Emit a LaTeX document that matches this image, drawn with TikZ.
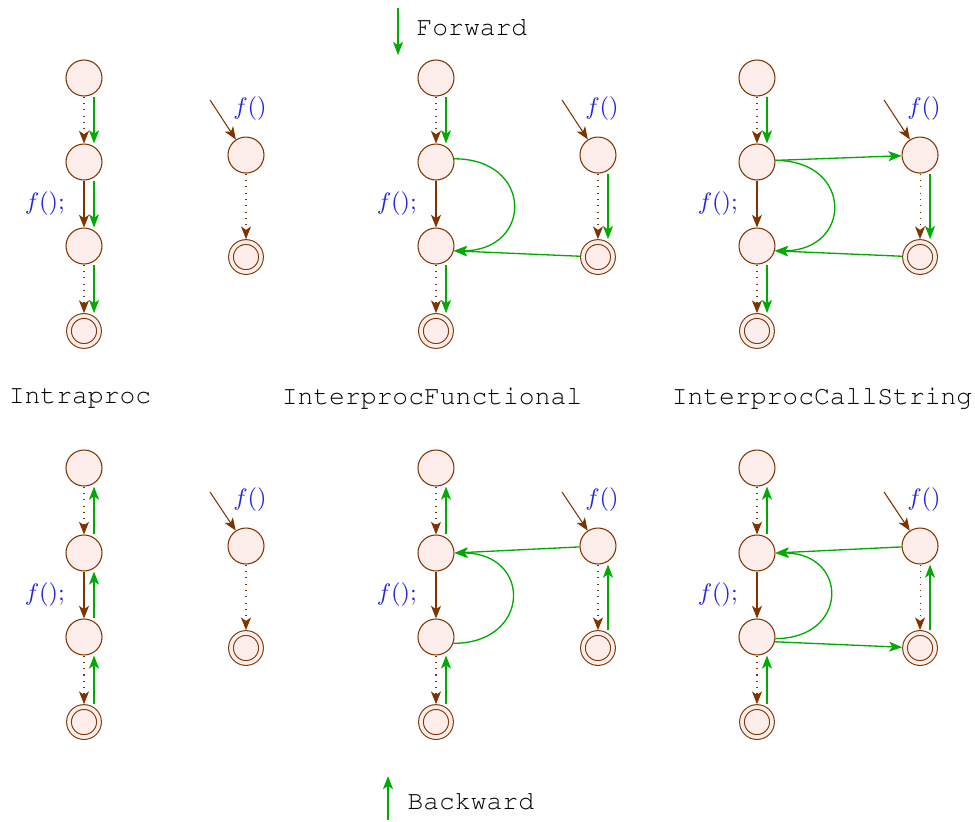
\documentclass[tikz,border=0pt]{standalone}
\usetikzlibrary{arrows.meta,positioning}
\newcommand\typefont{\fontencoding{T1}\fontfamily{pcr}\selectfont}
\definecolor{cfgbrown}{RGB}{128,51,0}
\definecolor{cfgfill}{RGB}{253,238,236}
\definecolor{flowgreen}{RGB}{0,170,0}
\definecolor{callblue}{RGB}{35,35,230}
\tikzset{
  pp/.style={circle,draw=cfgbrown,fill=cfgfill,minimum size=0.48cm,inner sep=0pt},
  ppend/.style={circle,draw=cfgbrown,fill=cfgfill,minimum size=0.4cm,inner sep=0pt,
    double=cfgfill,double distance=1.4pt,outer sep=1.1pt},
  cfg/.style={cfgbrown,-{Stealth[length=4.8pt,width=3.8pt,inset=1.3pt]}},
  nop/.style={cfg,dotted},
  flow/.style={flowgreen,line width=0.5pt,-{Stealth[length=5pt,width=3.8pt,inset=1.3pt]}},
  call/.style={callblue,font=\small},
  title/.style={font=\typefont}
}
\begin{document}
\begin{tikzpicture}
  \useasboundingbox (0,0) rectangle (13,-10.947);
  % forward
  \coordinate (fw0) at (5.307,-0.107);
  \coordinate (fw1) at (5.307,-0.733);
  \draw[flow] (fw0) -- (fw1);
  \node[title,anchor=west] (fwtext) at (5.43,-0.36) {Forward};

  \node[pp] (fi1) at (1.12,-1.04) {};
  \node[pp] (fi2) at (1.12,-2.16) {};
  \node[pp] (fi3) at (1.12,-3.28) {};
  \node[ppend] (fi4) at (1.12,-4.413) {};
  \node[pp] (fie) at (3.28,-2.067) {};
  \node[ppend] (fix) at (3.28,-3.427) {};
  \coordinate (fiin) at (2.8,-1.333);
  \node[call,above=2.4pt of fie,xshift=1.5pt] (fil) {$f()$};
  \draw[nop] (fi1) -- (fi2);
  \draw[cfg] (fi2) -- node[call,left=3.7pt] (fic) {$f();$} (fi3);
  \draw[nop] (fi3) -- (fi4);
  \draw[cfg] (fiin) -- (fie);
  \draw[nop] (fie) -- (fix);
  \draw[flow] ([xshift=3.8pt]fi1.south) -- ([xshift=3.8pt]fi2.north);
  \draw[flow] ([xshift=3.8pt]fi2.south) -- ([xshift=3.8pt]fi3.north);
  \draw[flow] ([xshift=3.8pt]fi3.south) -- ([xshift=3.8pt]fi4.north);
  \node[title] (fit) at (1.067,-5.307) {Intraproc};

  \node[pp] (ff1) at (5.813,-1.04) {};
  \node[pp] (ff2) at (5.813,-2.16) {};
  \node[pp] (ff3) at (5.813,-3.28) {};
  \node[ppend] (ff4) at (5.813,-4.413) {};
  \node[pp] (ffe) at (7.973,-2.067) {};
  \node[ppend] (ffx) at (7.973,-3.427) {};
  \coordinate (ffin) at (7.493,-1.333);
  \node[call,above=2.4pt of ffe,xshift=1.5pt] (ffl) {$f()$};
  \draw[nop] (ff1) -- (ff2);
  \draw[cfg] (ff2) -- node[call,left=3.7pt] (ffc) {$f();$} (ff3);
  \draw[nop] (ff3) -- (ff4);
  \draw[cfg] (ffin) -- (ffe);
  \draw[nop] (ffe) -- (ffx);
  \draw[flow] ([xshift=3.8pt]ff1.south) -- ([xshift=3.8pt]ff2.north);
  \draw[flow] ([xshift=3.8pt]ff3.south) -- ([xshift=3.8pt]ff4.north);
  \draw[flow] ([xshift=3.8pt]ffe.south) -- ([xshift=3.8pt]ffx.north);
  \draw[flow] (ff2.10) to[out=0,in=0,looseness=2.2] (ff3.-15);
  \draw[flow] (ffx) -- (ff3.-15);
  \node[title] (fft) at (5.76,-5.307) {InterprocFunctional};

  \node[pp] (fc1) at (10.093,-1.04) {};
  \node[pp] (fc2) at (10.093,-2.16) {};
  \node[pp] (fc3) at (10.093,-3.28) {};
  \node[ppend] (fc4) at (10.093,-4.413) {};
  \node[pp] (fce) at (12.267,-2.067) {};
  \node[ppend] (fcx) at (12.267,-3.427) {};
  \coordinate (fcin) at (11.787,-1.333);
  \node[call,above=2.4pt of fce,xshift=1.5pt] (fcl) {$f()$};
  \draw[nop] (fc1) -- (fc2);
  \draw[cfg] (fc2) -- node[call,left=3.7pt] (fcc) {$f();$} (fc3);
  \draw[nop] (fc3) -- (fc4);
  \draw[cfg] (fcin) -- (fce);
  \draw[nop] (fce) -- (fcx);
  \draw[flow] ([xshift=3.8pt]fc1.south) -- ([xshift=3.8pt]fc2.north);
  \draw[flow] ([xshift=3.8pt]fc3.south) -- ([xshift=3.8pt]fc4.north);
  \draw[flow] ([xshift=3.8pt]fce.south) -- ([xshift=3.8pt]fcx.north);
  \draw[flow] (fc2.5) -- (fce);
  \draw[flow] (fc2.5) to[out=0,in=0,looseness=2.2] (fc3.-15);
  \draw[flow] (fcx) -- (fc3.-15);
  \node[title] (fct) at (10.96,-5.307) {InterprocCallString};

  % backward
  \node[pp] (bi1) at (1.12,-6.24) {};
  \node[pp] (bi2) at (1.12,-7.373) {};
  \node[pp] (bi3) at (1.12,-8.493) {};
  \node[ppend] (bi4) at (1.12,-9.627) {};
  \node[pp] (bie) at (3.28,-7.28) {};
  \node[ppend] (bix) at (3.28,-8.64) {};
  \coordinate (biin) at (2.8,-6.56);
  \node[call,above=2.4pt of bie,xshift=1.5pt] (bil) {$f()$};
  \draw[nop] (bi1) -- (bi2);
  \draw[cfg] (bi2) -- node[call,left=3.7pt] (bic) {$f();$} (bi3);
  \draw[nop] (bi3) -- (bi4);
  \draw[cfg] (biin) -- (bie);
  \draw[nop] (bie) -- (bix);
  \draw[flow] ([xshift=3.8pt]bi2.north) -- ([xshift=3.8pt]bi1.south);
  \draw[flow] ([xshift=3.8pt]bi3.north) -- ([xshift=3.8pt]bi2.south);
  \draw[flow] ([xshift=3.8pt]bi4.north) -- ([xshift=3.8pt]bi3.south);

  \node[pp] (bf1) at (5.813,-6.24) {};
  \node[pp] (bf2) at (5.813,-7.373) {};
  \node[pp] (bf3) at (5.813,-8.493) {};
  \node[ppend] (bf4) at (5.813,-9.627) {};
  \node[pp] (bfe) at (7.973,-7.28) {};
  \node[ppend] (bfx) at (7.973,-8.64) {};
  \coordinate (bfin) at (7.493,-6.56);
  \node[call,above=2.4pt of bfe,xshift=1.5pt] (bfl) {$f()$};
  \draw[nop] (bf1) -- (bf2);
  \draw[cfg] (bf2) -- node[call,left=3.7pt] (bfc) {$f();$} (bf3);
  \draw[nop] (bf3) -- (bf4);
  \draw[cfg] (bfin) -- (bfe);
  \draw[nop] (bfe) -- (bfx);
  \draw[flow] ([xshift=3.8pt]bf2.north) -- ([xshift=3.8pt]bf1.south);
  \draw[flow] ([xshift=3.8pt]bf4.north) -- ([xshift=3.8pt]bf3.south);
  \draw[flow] ([xshift=3.8pt]bfx.north) -- ([xshift=3.8pt]bfe.south);
  \draw[flow] (bfe) -- (bf2.0);
  \draw[flow] (bf3.-20) to[out=0,in=0,looseness=2.2] (bf2.0);

  \node[pp] (bc1) at (10.093,-6.24) {};
  \node[pp] (bc2) at (10.093,-7.373) {};
  \node[pp] (bc3) at (10.093,-8.493) {};
  \node[ppend] (bc4) at (10.093,-9.627) {};
  \node[pp] (bce) at (12.267,-7.28) {};
  \node[ppend] (bcx) at (12.267,-8.64) {};
  \coordinate (bcin) at (11.787,-6.56);
  \node[call,above=2.4pt of bce,xshift=1.5pt] (bcl) {$f()$};
  \draw[nop] (bc1) -- (bc2);
  \draw[cfg] (bc2) -- node[call,left=3.7pt] (bcc) {$f();$} (bc3);
  \draw[nop] (bc3) -- (bc4);
  \draw[cfg] (bcin) -- (bce);
  \draw[nop] (bce) -- (bcx);
  \draw[flow] ([xshift=3.8pt]bc2.north) -- ([xshift=3.8pt]bc1.south);
  \draw[flow] ([xshift=3.8pt]bc4.north) -- ([xshift=3.8pt]bc3.south);
  \draw[flow] ([xshift=3.8pt]bcx.north) -- ([xshift=3.8pt]bce.south);
  \draw[flow] (bce) -- (bc2.0);
  \draw[flow] (bc3.-5) to[out=0,in=0,looseness=2.2] (bc2.0);
  \draw[flow] (bc3.-15) -- (bcx);

  \coordinate (bw0) at (5.173,-10.933);
  \coordinate (bw1) at (5.173,-10.347);
  \draw[flow] (bw0) -- (bw1);
  \node[title,anchor=west] (bwtext) at (5.31,-10.68) {Backward};
\end{tikzpicture}
\end{document}
